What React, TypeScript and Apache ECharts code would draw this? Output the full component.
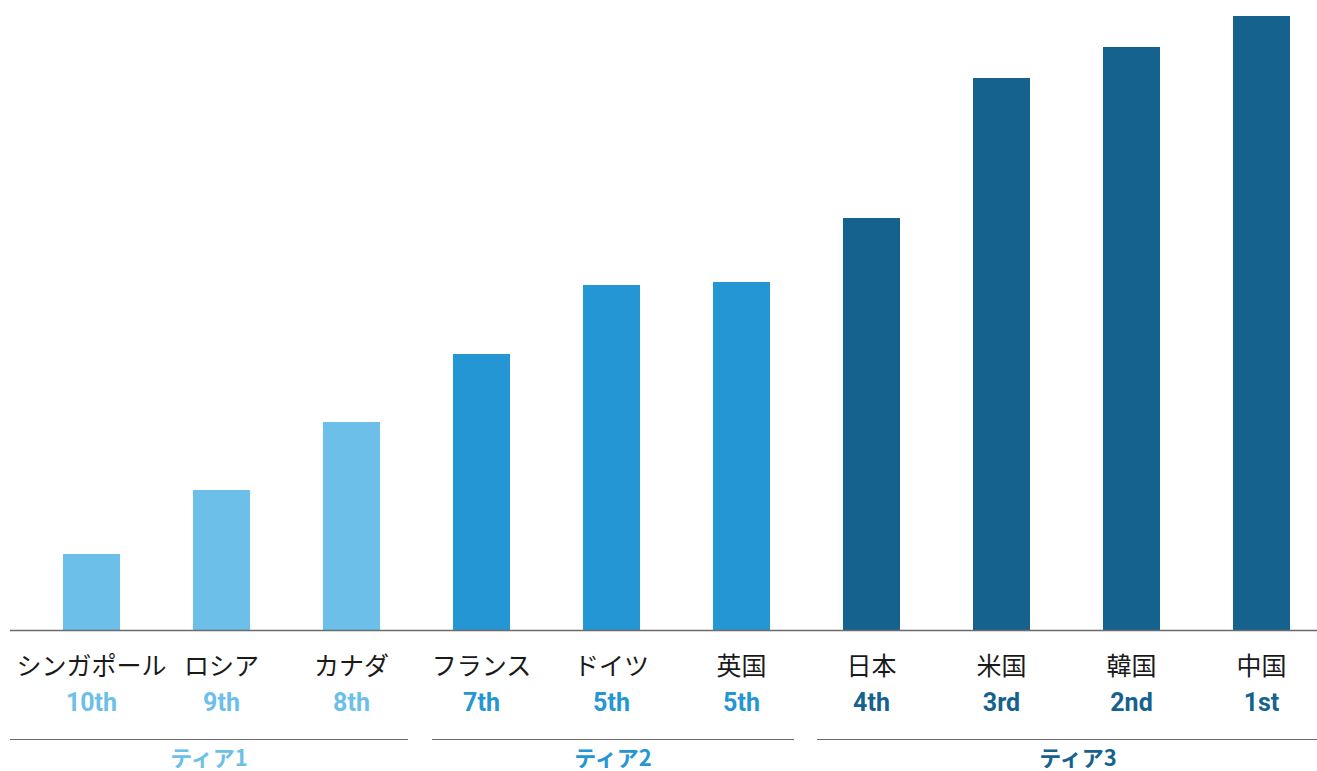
import React, { useEffect, useRef } from "react";
import * as echarts from "echarts";

const countries = ["シンガポール", "ロシア", "カナダ", "フランス", "ドイツ", "英国", "日本", "米国", "韓国", "中国"];
const ranks = ["10th", "9th", "8th", "7th", "5th", "5th", "4th", "3rd", "2nd", "1st"];
const tierOf = [1, 1, 1, 2, 2, 2, 3, 3, 3, 3];
const values = [76, 140, 208, 276, 345, 348, 412, 552, 583, 614];
const tierNames = ["ティア1", "ティア2", "ティア3"];
const tierColors = ["#6BBFE8", "#2596D4", "#15628E"];
const tierLineX = [[10, 408], [432, 794], [817, 1317]];
const tierLabelX = [209, 613, 1078];

export default function App() {
  const ref = useRef<HTMLDivElement>(null);
  useEffect(() => {
    const chart = echarts.init(ref.current!, null, { renderer: "svg" });
    const graphics: any[] = [
      {
        type: "line",
        shape: { x1: 10, y1: 630.5, x2: 1317, y2: 630.5 },
        style: { stroke: "#6b6b6b", lineWidth: 1.5 },
        z: 10,
      },
    ];
    tierNames.forEach((t, i) => {
      graphics.push({
        type: "line",
        shape: { x1: tierLineX[i][0], y1: 739.5, x2: tierLineX[i][1], y2: 739.5 },
        style: { stroke: "#6b6b6b", lineWidth: 1 },
      });
      graphics.push({
        type: "text",
        x: tierLabelX[i],
        y: 756,
        style: {
          text: t,
          fill: tierColors[i],
          font: "bold 22px 'Noto Sans CJK JP', Roboto, sans-serif",
          lineHeight: 22,
          align: "center",
          verticalAlign: "middle",
        },
      });
    });
    chart.setOption({
      animation: false,
      grid: { left: 26.5, top: 0, width: 1300, height: 630, outerBoundsMode: "none", containLabel: false },
      xAxis: {
        type: "category",
        data: countries,
        axisLine: { show: false },
        axisTick: { show: false },
        axisLabel: {
          interval: 0,
          margin: 17,
          hideOverlap: false,
          formatter: (v: string, idx: number) => `{c|${v}}\n{r${tierOf[idx]}|${ranks[idx]}}`,
          rich: {
            c: { fontSize: 25, lineHeight: 34, color: "#1a1a1a", fontFamily: "'Noto Sans CJK JP', sans-serif" },
            r1: { fontSize: 25, lineHeight: 42, fontWeight: "bold", color: tierColors[0], fontFamily: "Roboto, sans-serif" },
            r2: { fontSize: 25, lineHeight: 42, fontWeight: "bold", color: tierColors[1], fontFamily: "Roboto, sans-serif" },
            r3: { fontSize: 25, lineHeight: 42, fontWeight: "bold", color: tierColors[2], fontFamily: "Roboto, sans-serif" },
          },
        },
      },
      yAxis: { type: "value", min: 0, max: 630, show: false, splitLine: { show: false } },
      series: [
        {
          type: "bar",
          barWidth: 57,
          data: values.map((v, i) => ({ value: v, itemStyle: { color: tierColors[tierOf[i] - 1] } })),
        },
      ],
      graphic: graphics,
    });
    return () => chart.dispose();
  }, []);
  return <div ref={ref} style={{ position: "absolute", left: 0, top: 0, width: 1317, height: 771 }} />;
}
